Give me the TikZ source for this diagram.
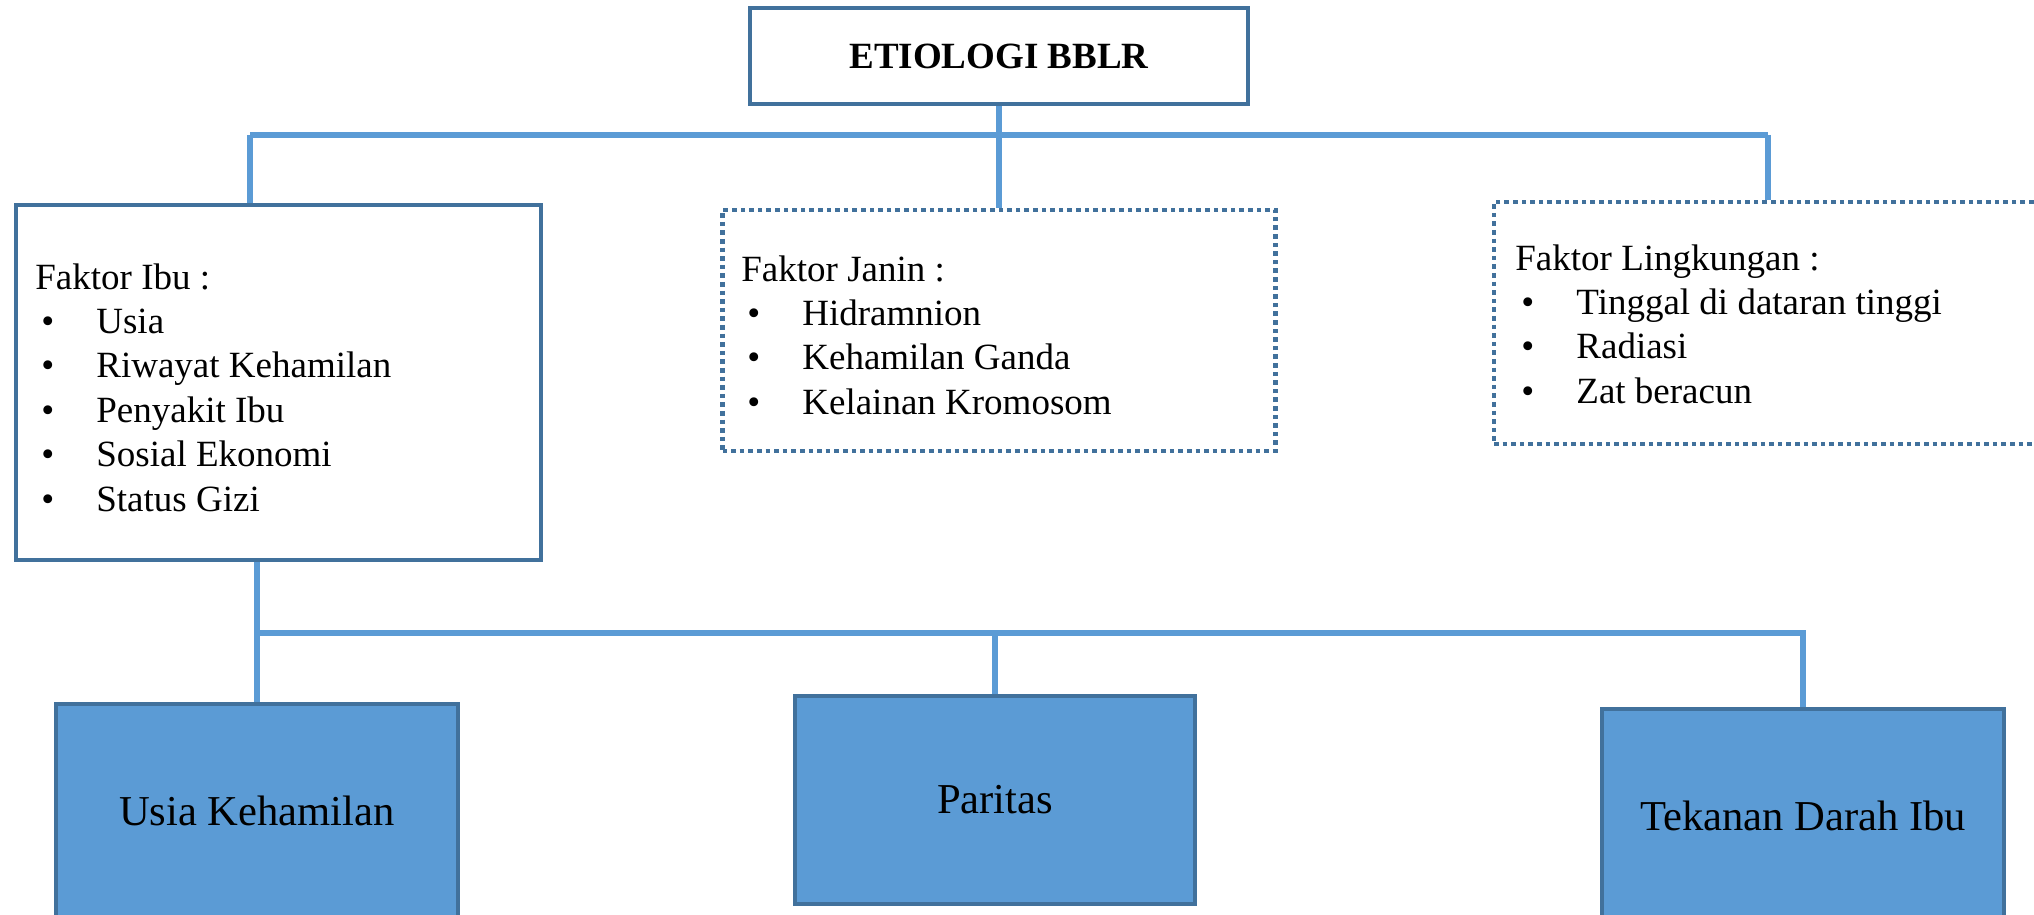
\documentclass[tikz,border=0pt]{standalone}
\usepackage{fontspec}
\setmainfont{Liberation Serif}
\definecolor{bord}{HTML}{41719C}
\definecolor{fillb}{HTML}{5B9BD5}
\definecolor{connc}{HTML}{5B9BD5}
\newcommand\bitem{\hspace*{3pt}\makebox[27.5pt][l]{•}}
\begin{document}
\begin{tikzpicture}[x=0.5pt,y=-0.5pt,
  solidbox/.style={draw=bord, line width=2.4pt, rectangle, inner sep=0},
  dotbox/.style={draw=bord, line width=2.3pt, dash pattern=on 2.3pt off 2pt, rectangle, inner sep=0},
  bluebox/.style={draw=bord, fill=fillb, line width=2.4pt, rectangle, inner sep=0, font=\fontsize{21.3}{25}\selectfont},
  connector/.style={draw=connc, line width=2.6pt},
  listtext/.style={anchor=north west, inner sep=0, align=left, font=\fontsize{18.5}{22.2}\selectfont}]
\useasboundingbox (0,0) rectangle (2034,915);
\clip (0,0) rectangle (2034,915);

% top
\node[solidbox, minimum width=249pt, minimum height=48pt, font=\fontsize{18.5}{22}\selectfont\bfseries] (top) at (999,56) {ETIOLOGI BBLR};

% factor boxes
\node[solidbox, minimum width=262.5pt, minimum height=177.5pt] (ibu) at (278.5,382.5) {};
\node[dotbox, minimum width=276.5pt, minimum height=120.5pt] (janin) at (999,330.5) {};
\node[dotbox, minimum width=276.5pt, minimum height=121pt] (ling) at (1770.5,323) {};

\node[listtext] (ibuT) at (35,263) {Faktor Ibu :\\ \bitem Usia\\ \bitem Riwayat Kehamilan\\ \bitem Penyakit Ibu\\ \bitem Sosial Ekonomi\\ \bitem Status Gizi};
\node[listtext] (janinT) at (741,255) {Faktor Janin :\\ \bitem Hidramnion\\ \bitem Kehamilan Ganda\\ \bitem Kelainan Kromosom};
\node[listtext] (lingT) at (1515,244) {Faktor Lingkungan :\\ \bitem Tinggal di dataran tinggi\\ \bitem Radiasi\\ \bitem Zat beracun};

% bottom boxes
\node[bluebox, minimum width=201pt, minimum height=107pt] (usia) at (257,811) {Usia Kehamilan};
\node[bluebox, minimum width=200pt, minimum height=104pt] (par) at (995,800) {Paritas};
\node[bluebox, minimum width=201pt, minimum height=107pt] (tek) at (1803,816) {Tekanan Darah Ibu};

% upper connectors
\coordinate (barL) at (250,135);
\coordinate (barR) at (1768,135);
\draw[connector] (barL) -- (barR);
\draw[connector] (top.south) -- (top.south |- barL);
\draw[connector] (top.south |- barL) -- (janin.north);
\draw[connector] (barL) -- (barL |- ibu.north);
\draw[connector] (barR) -- (barR |- ling.north);

% lower connectors
\coordinate (lbar) at (257,633);
\draw[connector] (ibu.south -| lbar) -- (lbar) -- (usia.north);
\draw[connector] (lbar) -- (lbar -| tek.north) -- (tek.north);
\draw[connector] (lbar -| par.north) -- (par.north);
\end{tikzpicture}
\end{document}
